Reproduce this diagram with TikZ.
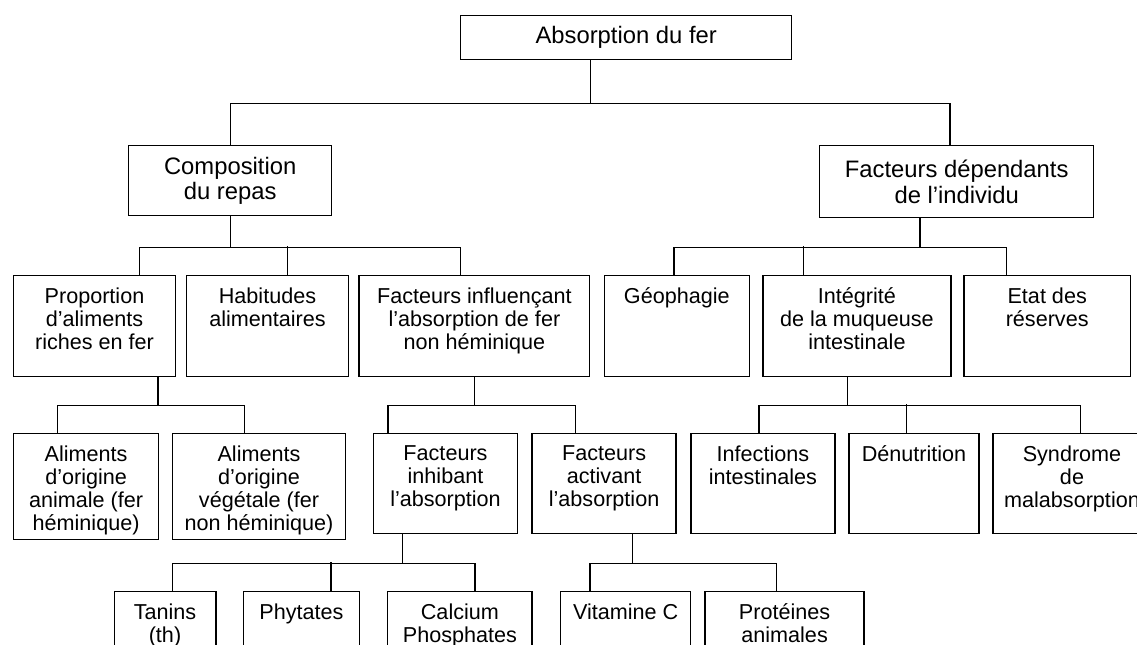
\documentclass[tikz,border=0pt]{standalone}
\usepackage{fontspec}
\setmainfont{Liberation Sans}
\tikzset{
 boite/.style={draw, rectangle, line width=0.7pt, anchor=north west, inner sep=0pt},
 grand/.style={align=center, font=\fontsize{11.9}{12.85}\selectfont},
 haut/.style={anchor=north, align=center, inner sep=0pt, yshift=-6pt, font=\fontsize{10.8}{11.65}\selectfont},
 lien/.style={line width=0.7pt}
}
\begin{document}
\begin{tikzpicture}[x=0.5pt,y=-0.5pt]
 \useasboundingbox (0,0) rectangle (1137,644);

 \node[boite, grand, minimum width=165.5pt, minimum height=22pt] (fer) at (460,15) {Absorption du fer};

 \node[boite, grand, minimum width=101.5pt, minimum height=35pt] (repas) at (128,145) {Composition\\du repas};
 \node[boite, grand, minimum width=137pt, minimum height=36pt] (indiv) at (819,145) {Facteurs dépendants\\de l’individu};

 \node[boite, minimum width=80.8pt, minimum height=50.5pt, label={[haut]north:{Proportion\\d’aliments\\riches en fer}}] (prop) at (13,275) {};
 \node[boite, minimum width=80.8pt, minimum height=50.5pt, label={[haut]north:{Habitudes\\alimentaires}}] (habit) at (186,275) {};
 \node[boite, minimum width=115.3pt, minimum height=50.5pt, label={[haut]north:{Facteurs influençant\\l’absorption de fer\\non héminique}}] (influ) at (358.4,275) {};
 \node[boite, minimum width=72.4pt, minimum height=50.5pt, label={[haut]north:{Géophagie}}] (geo) at (603.7,275) {};
 \node[boite, minimum width=94pt, minimum height=50.5pt, label={[haut]north:{Intégrité\\de la muqueuse\\intestinale}}] (muq) at (762.2,275) {};
 \node[boite, minimum width=83.3pt, minimum height=50.5pt, label={[haut]north:{Etat des\\réserves}}] (reserv) at (963.2,275) {};

 \node[boite, minimum width=72.4pt, minimum height=53pt, label={[haut]north:{Aliments\\d’origine\\animale (fer\\héminique)}}] (anim) at (13,433) {};
 \node[boite, minimum width=86.7pt, minimum height=53pt, label={[haut]north:{Aliments\\d’origine\\végétale (fer\\non héminique)}}] (veget) at (171.6,433) {};
 \node[boite, minimum width=72.2pt, minimum height=50pt, label={[haut]north:{Facteurs\\inhibant\\l’absorption}}] (inhib) at (372.6,433) {};
 \node[boite, minimum width=72pt, minimum height=50pt, label={[haut]north:{Facteurs\\activant\\l’absorption}}] (activ) at (531.4,433) {};
 \node[boite, minimum width=72pt, minimum height=50pt, label={[haut]north:{Infections\\intestinales}}] (infec) at (690.2,433) {};
 \node[boite, minimum width=64.9pt, minimum height=50pt, label={[haut]north:{Dénutrition}}] (denut) at (848.4,433) {};
 \node[boite, minimum width=79pt, minimum height=50pt, label={[haut]north:{Syndrome\\de\\malabsorption}}] (malab) at (992.3,433) {};

 \node[boite, minimum width=50.8pt, minimum height=35pt, label={[haut]north:{Tanins\\(th)}}] (tanin) at (113.5,591) {};
 \node[boite, minimum width=57.8pt, minimum height=35pt, label={[haut]north:{Phytates}}] (phyt) at (243,591) {};
 \node[boite, minimum width=72.2pt, minimum height=35pt, label={[haut]north:{Calcium\\Phosphates}}] (calc) at (387,591) {};
 \node[boite, minimum width=65pt, minimum height=35pt, label={[haut]north:{Vitamine C}}] (vitc) at (560,591) {};
 \node[boite, minimum width=79.5pt, minimum height=35pt, label={[haut]north:{Protéines\\animales}}] (prot) at (704.4,591) {};

 \draw[lien] ([xshift=-18pt]fer.south) -- ++(0,43) coordinate (b0);
 \draw[lien] (repas.north) |- (b0) -| ([xshift=-3.4pt]indiv.north);

 \draw[lien] (repas.south) -- ++(0,31) coordinate (b1);
 \draw[lien] ([xshift=22.4pt]prop.north) |- (b1) -| ([xshift=-7pt]influ.north);
 \draw[lien] ([xshift=10pt]habit.north) -- ++(0,-29);

 \draw[lien] ([xshift=-18.3pt]indiv.south) -- ++(0,29) coordinate (b2);
 \draw[lien] ([xshift=-1.5pt]geo.north) |- (b2) -| ([xshift=-20.5pt]reserv.north);
 \draw[lien] ([xshift=-26.8pt]muq.north) -- ++(0,-29);

 \draw[lien] ([xshift=31.8pt]prop.south) -- ++(0,28) coordinate (b3);
 \draw[lien] ([xshift=-14.4pt]anim.north) |- (b3) -| ([xshift=-7.4pt]veget.north);

 \draw[lien] (influ.south) -- ++(0,28) coordinate (b4);
 \draw[lien] ([xshift=-28.7pt]inhib.north) |- (b4) -| ([xshift=-14.2pt]activ.north);

 \draw[lien] ([xshift=-4.7pt]muq.south) -- ++(0,28) coordinate (b5);
 \draw[lien] ([xshift=-2pt]infec.north) |- (b5) -| ([xshift=4.3pt]malab.north);
 \draw[lien] ([xshift=-3.8pt]denut.north) -- ++(0,-29);

 \draw[lien] ([xshift=-21.4pt]inhib.south) -- ++(0,29) coordinate (b6);
 \draw[lien] ([xshift=3.6pt]tanin.north) |- (b6) -| ([xshift=7.6pt]calc.north);
 \draw[lien] ([xshift=14.8pt]phyt.north) -- ++(0,-29);

 \draw[lien] ([xshift=14.3pt]activ.south) -- ++(0,29) coordinate (b7);
 \draw[lien] ([xshift=-17.8pt]vitc.north) |- (b7) -| ([xshift=-4pt]prot.north);
\end{tikzpicture}
\end{document}
